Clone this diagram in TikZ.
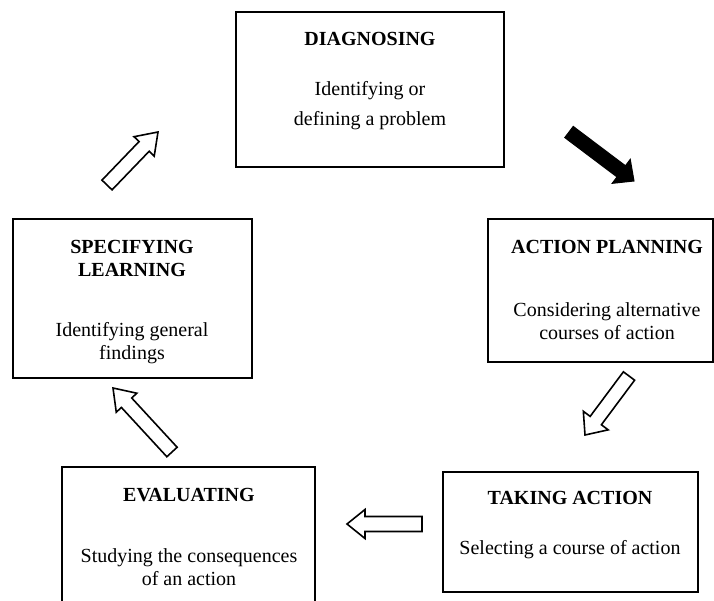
\documentclass[tikz,border=0pt]{standalone}
\usepackage{fontspec}
\setmainfont{Liberation Serif}
\usetikzlibrary{calc}
\tikzset{
  stagebox/.style={draw=black, line width=2pt, fill=none, inner sep=0pt, rectangle},
  titletext/.style={font=\fontsize{20}{23}\selectfont\bfseries, align=center, inner sep=0pt},
  bodytext/.style={font=\fontsize{20}{23}\selectfont, align=center, inner sep=0pt},
  widebody/.style={font=\fontsize{20}{30}\selectfont, align=center, inner sep=0pt},
  hollowarrow/.style={draw=black, line width=1.6pt, fill=white, line join=miter},
  solidarrow/.style={draw=black, line width=1pt, fill=black, line join=miter}
}
% #1 style, #2 tail, #3 tip, #4 half shaft width, #5 half head width, #6 head length
\newcommand\fatarrow[6]{%
  \coordinate (fa-h) at ($(#3)!#6!(#2)$);
  \draw[#1] ($(#2)!#4!90:(#3)$) -- ($(fa-h)!#4!-90:(#2)$) -- ($(fa-h)!#5!-90:(#2)$) -- (#3)
    -- ($(fa-h)!#5!90:(#2)$) -- ($(fa-h)!#4!90:(#2)$) -- ($(#2)!#4!-90:(#3)$) -- cycle;}
\begin{document}
\begin{tikzpicture}[x=1pt, y=-1pt]
\useasboundingbox (0,0) rectangle (714,601);
\clip (0,0) rectangle (714,601);
% boxes
\node[stagebox, minimum width=268pt, minimum height=155pt] (diag) at (370,89.5) {};
\node[stagebox, minimum width=239pt, minimum height=159pt] (spec) at (132.5,298.5) {};
\node[stagebox, minimum width=225pt, minimum height=143pt] (plan) at (600.5,290.5) {};
\node[stagebox, minimum width=255pt, minimum height=120pt] (take) at (570.5,532) {};
\node[stagebox, minimum width=253pt, minimum height=160pt] (eval) at (188.5,547) {};
% texts
\node[titletext] (diagT) at (370,39) {DIAGNOSING};
\node[widebody] (diagB) at (370,106) {Identifying or\\defining a problem};
\node[titletext] (specT) at (132,258.5) {SPECIFYING\\LEARNING};
\node[bodytext] (specB) at (132,343.5) {Identifying general\\findings};
\node[titletext] (planT) at (607,247) {ACTION PLANNING};
\node[bodytext] (planB) at (607,321) {Considering alternative\\courses of action};
\node[titletext] (takeT) at (570,498) {TAKING ACTION};
\node[bodytext] (takeB) at (570,550) {Selecting a course of action};
\node[titletext] (evalT) at (189,495) {EVALUATING};
\node[bodytext] (evalB) at (189,567.5) {Studying the consequences\\of an action};
% arrow end points
\coordinate (a1t) at (107,185); \coordinate (a1h) at (158,132);
\coordinate (a2t) at (569,132); \coordinate (a2h) at (634,181);
\coordinate (a3t) at (629,376); \coordinate (a3h) at (585,435);
\coordinate (a4t) at (422,524); \coordinate (a4h) at (347,524);
\coordinate (a5t) at (172,452); \coordinate (a5h) at (113,388);
\fatarrow{hollowarrow}{a1t}{a1h}{7pt}{14pt}{20pt}
\fatarrow{solidarrow}{a2t}{a2h}{7pt}{15pt}{16pt}
\fatarrow{hollowarrow}{a3t}{a3h}{7pt}{15.5pt}{18pt}
\fatarrow{hollowarrow}{a4t}{a4h}{7.5pt}{14.5pt}{18pt}
\fatarrow{hollowarrow}{a5t}{a5h}{7pt}{14pt}{20pt}
\end{tikzpicture}
\end{document}
